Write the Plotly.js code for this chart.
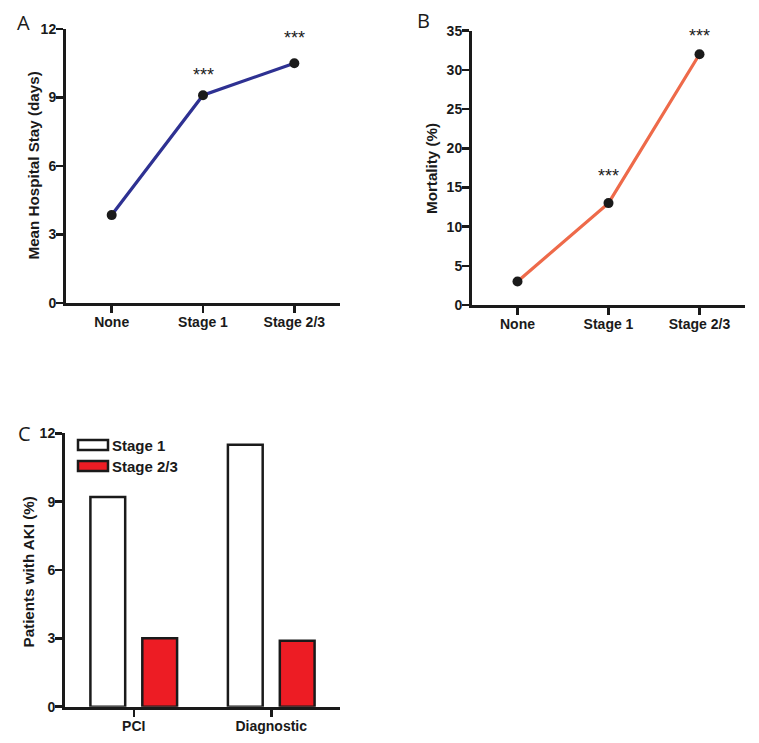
<!DOCTYPE html>
<html>
<head>
<meta charset="utf-8">
<script src="https://cdn.plot.ly/plotly-3.0.1.min.js"></script>
<style>
  body { margin: 0; background: #fff; }
  #chart { width: 759px; height: 743px; }
</style>
</head>
<body>
<div id="chart"></div>
<script>
// data
var stages = ['None', 'Stage 1', 'Stage 2/3'];
var hospitalStay = [3.85, 9.1, 10.5];      // days
var mortality = [3, 13, 32];               // %
var stayMarks = ['', '***', '***'];
var mortalityMarks = ['', '***', '***'];

var procedures = ['PCI', 'Diagnostic'];
var akiStage1 = [9.2, 11.5];               // % patients
var akiStage23 = [3.0, 2.9];

var ink = '#1a1a1a';
var boldFont = 'Liberation Sans, Arial, Helvetica, sans-serif';

function axisStyle(extra) {
  var a = {
    showline: true, linecolor: ink, linewidth: 3,
    ticks: 'outside', ticklen: 7, tickwidth: 2.5, tickcolor: ink,
    ticklabelstandoff: -3,
    showgrid: false, zeroline: false, fixedrange: true,
    tickfont: { family: boldFont, size: 14, weight: 'bold', color: ink }
  };
  for (var k in extra) a[k] = extra[k];
  return a;
}

var traces = [
  { x: stages, y: hospitalStay, type: 'scatter', mode: 'lines+markers',
    xaxis: 'x', yaxis: 'y',
    line: { color: '#2e3192', width: 3.2 },
    marker: { color: ink, size: 10 } },
  { x: stages, y: mortality, type: 'scatter', mode: 'lines+markers',
    xaxis: 'x2', yaxis: 'y2',
    line: { color: '#ee6a4a', width: 3.2 },
    marker: { color: ink, size: 10 } },
  { x: procedures, y: akiStage1, type: 'bar', name: 'Stage 1',
    xaxis: 'x3', yaxis: 'y3',
    marker: { color: '#ffffff', line: { color: ink, width: 2.5 } } },
  { x: procedures, y: akiStage23, type: 'bar', name: 'Stage 2/3',
    xaxis: 'x3', yaxis: 'y3',
    marker: { color: '#ed1c24', line: { color: ink, width: 2.5 } } }
];

var annotations = [];
function addMarks(xs, ys, marks, xref, yref, shifts) {
  for (var i = 0; i < xs.length; i++) {
    if (!marks[i]) continue;
    annotations.push({ x: xs[i], y: ys[i], xref: xref, yref: yref, text: marks[i],
      showarrow: false, yshift: shifts[i], yanchor: 'middle',
      font: { family: 'Liberation Sans, Arial, sans-serif', size: 18, color: ink } });
  }
}
addMarks(stages, hospitalStay, stayMarks, 'x', 'y', [0, 20, 25]);
addMarks(stages, mortality, mortalityMarks, 'x2', 'y2', [0, 27, 18]);

// y axis titles, placed by hand so they sit close to the tick labels
function yTitle(t, x, y) {
  annotations.push({ text: t, xref: 'paper', yref: 'paper', x: x, y: y,
    xanchor: 'center', yanchor: 'middle', textangle: -90, showarrow: false,
    font: { family: boldFont, size: 15.2, weight: 'bold', color: ink } });
}
yTitle('Mean Hospital Stay (days)', 33 / 759, 1 - 165.5 / 743);
yTitle('Mortality (%)', 431 / 759, 1 - 169 / 743);
yTitle('Patients with AKI (%)', 28 / 759, 1 - 572.5 / 743);

// panel letters
function letter(t, x, y) {
  annotations.push({ text: t, xref: 'paper', yref: 'paper', x: x, y: y,
    xanchor: 'left', yanchor: 'middle', showarrow: false,
    font: { family: 'Open Sans, sans-serif', size: 20, color: ink } });
}
letter('A', 15 / 759, 1 - 22 / 743);
letter('B', 415 / 759, 1 - 20 / 743);
letter('C', 16 / 759, 1 - 433 / 743);

// legend for panel C, drawn by hand so the keys are wide boxes
var legendItems = [
  { name: 'Stage 1', color: '#ffffff', top: 440 },
  { name: 'Stage 2/3', color: '#ed1c24', top: 461 }
];
var shapes = [];
legendItems.forEach(function (it) {
  shapes.push({ type: 'rect', xref: 'paper', yref: 'paper',
    x0: 78 / 759, x1: 108 / 759, y0: 1 - (it.top + 10) / 743, y1: 1 - it.top / 743,
    fillcolor: it.color, line: { color: ink, width: 2.5 } });
  annotations.push({ text: it.name, xref: 'paper', yref: 'paper',
    x: 110 / 759, y: 1 - (it.top + 5) / 743, xanchor: 'left', yanchor: 'middle',
    showarrow: false, font: { family: boldFont, size: 15, weight: 'bold', color: ink } });
});

var layout = {
  width: 759, height: 743,
  margin: { l: 0, r: 0, t: 0, b: 0 },
  paper_bgcolor: '#fff', plot_bgcolor: '#fff',
  showlegend: false,
  barmode: 'group', bargap: 0.245, bargroupgap: 0.33,
  xaxis: axisStyle({ domain: [66 / 759, 340 / 759], anchor: 'y', type: 'category', range: [-0.5, 2.5] }),
  yaxis: axisStyle({ domain: [1 - 303 / 743, 1 - 29 / 743], anchor: 'x', range: [0, 12], dtick: 3, tick0: 0 }),
  xaxis2: axisStyle({ domain: [472 / 759, 745 / 759], anchor: 'y2', type: 'category', range: [-0.5, 2.5] }),
  yaxis2: axisStyle({ domain: [1 - 305 / 743, 1 - 30.7 / 743], anchor: 'x2', range: [0, 35], dtick: 5, tick0: 0 }),
  xaxis3: axisStyle({ domain: [65 / 759, 340 / 759], anchor: 'y3', type: 'category', range: [-0.5, 1.5] }),
  yaxis3: axisStyle({ domain: [1 - 706.7 / 743, 1 - 433.3 / 743], anchor: 'x3', range: [0, 12], dtick: 3, tick0: 0 }),
  annotations: annotations,
  shapes: shapes
};

Plotly.newPlot('chart', traces, layout, { displayModeBar: false, staticPlot: true });
</script>
</body>
</html>
